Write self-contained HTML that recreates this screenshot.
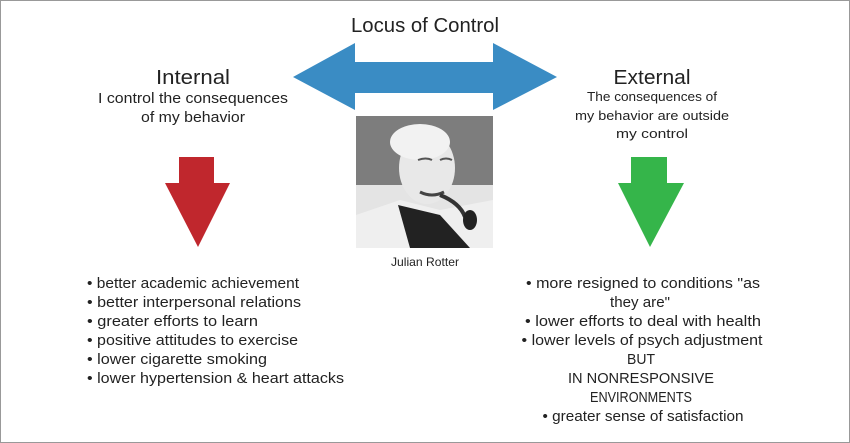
<!DOCTYPE html>
<html><head><meta charset="utf-8"><style>
html,body{margin:0;padding:0;background:#fff}
svg{display:block}
text{font-family:"Liberation Sans Narrow","Liberation Sans",sans-serif;fill:#222}
</style></head><body>
<svg width="850" height="443" viewBox="0 0 850 443" xmlns="http://www.w3.org/2000/svg">
<rect x="0.5" y="0.5" width="849" height="442" fill="#fff" stroke="#999"/>
<text x="425" y="32" font-size="20" text-anchor="middle" textLength="148" lengthAdjust="spacingAndGlyphs">Locus of Control</text>
<polygon points="293,77 355,43 355,62 493,62 493,43 557,77 493,110 493,93 355,93 355,110" fill="#3a8cc4"/>
<text x="193" y="84" font-size="20" text-anchor="middle" textLength="74" lengthAdjust="spacingAndGlyphs">Internal</text>
<text x="193" y="103" font-size="15" text-anchor="middle" textLength="190" lengthAdjust="spacingAndGlyphs">I control the consequences</text>
<text x="193" y="122" font-size="15" text-anchor="middle" textLength="104" lengthAdjust="spacingAndGlyphs">of my behavior</text>
<text x="652" y="84" font-size="20" text-anchor="middle" textLength="77" lengthAdjust="spacingAndGlyphs">External</text>
<text x="652" y="101" font-size="13" text-anchor="middle" textLength="130" lengthAdjust="spacingAndGlyphs">The consequences of</text>
<text x="652" y="120" font-size="13" text-anchor="middle" textLength="154" lengthAdjust="spacingAndGlyphs">my behavior are outside</text>
<text x="652" y="138" font-size="13" text-anchor="middle" textLength="72" lengthAdjust="spacingAndGlyphs">my control</text>
<polygon points="179,157 214,157 214,183 230,183 198,247 165,183 179,183" fill="#c0272d"/>
<polygon points="631,157 667,157 667,183 684,183 650,247 618,183 631,183" fill="#35b54a"/>
<!-- photo -->
<defs><clipPath id="c"><rect x="356" y="116" width="137" height="132"/></clipPath></defs>
<g clip-path="url(#c)">
<rect x="356" y="116" width="137" height="132" fill="#7d7d7d"/>
<rect x="356" y="185" width="137" height="63" fill="#e4e4e4"/>
<polygon points="356,215 400,200 440,210 493,200 493,248 356,248" fill="#efefef"/>
<polygon points="398,205 440,215 470,248 410,248" fill="#222"/>
<ellipse cx="427" cy="168" rx="28" ry="36" fill="#e8e8e8"/>
<ellipse cx="420" cy="142" rx="30" ry="18" fill="#f2f2f2"/>
<path d="M418,160 q8,-3 14,0 M440,160 q6,-3 12,0" stroke="#555" stroke-width="2" fill="none"/>
<path d="M420,192 q12,6 24,0" stroke="#444" stroke-width="3" fill="none"/>
<path d="M440,195 q20,8 25,22" stroke="#333" stroke-width="4" fill="none"/>
<ellipse cx="470" cy="220" rx="7" ry="10" fill="#222"/>
</g>
<text x="425" y="266" font-size="12" text-anchor="middle" textLength="68" lengthAdjust="spacingAndGlyphs">Julian Rotter</text>
<g font-size="15">
<text x="87" y="288" textLength="212" lengthAdjust="spacingAndGlyphs">• better academic achievement</text>
<text x="87" y="307" textLength="214" lengthAdjust="spacingAndGlyphs">• better interpersonal relations</text>
<text x="87" y="326" textLength="171" lengthAdjust="spacingAndGlyphs">• greater efforts to learn</text>
<text x="87" y="345" textLength="211" lengthAdjust="spacingAndGlyphs">• positive attitudes to exercise</text>
<text x="87" y="364" textLength="180" lengthAdjust="spacingAndGlyphs">• lower cigarette smoking</text>
<text x="87" y="383" textLength="257" lengthAdjust="spacingAndGlyphs">• lower hypertension &amp; heart attacks</text>
</g>
<g font-size="15" text-anchor="middle">
<text x="643" y="288" textLength="234" lengthAdjust="spacingAndGlyphs">• more resigned to conditions "as</text>
<text x="640" y="307" textLength="60" lengthAdjust="spacingAndGlyphs">they are"</text>
<text x="643" y="326" textLength="236" lengthAdjust="spacingAndGlyphs">• lower efforts to deal with health</text>
<text x="642" y="345" textLength="241" lengthAdjust="spacingAndGlyphs">• lower levels of psych adjustment</text>
<text x="641" y="364" textLength="28" lengthAdjust="spacingAndGlyphs">BUT</text>
<text x="641" y="383" textLength="146" lengthAdjust="spacingAndGlyphs">IN NONRESPONSIVE</text>
<text x="641" y="402" textLength="102" lengthAdjust="spacingAndGlyphs">ENVIRONMENTS</text>
<text x="643" y="421" textLength="201" lengthAdjust="spacingAndGlyphs">• greater sense of satisfaction</text>
</g>
</svg>
</body></html>
